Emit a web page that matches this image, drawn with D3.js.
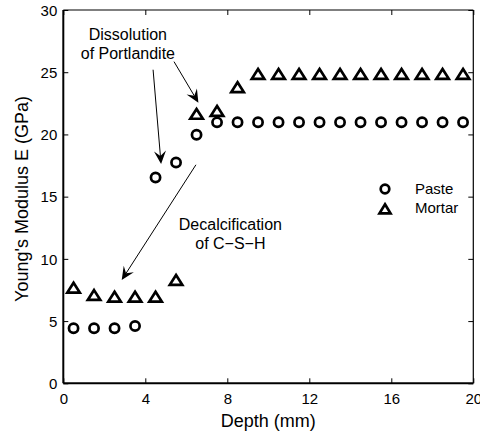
<!DOCTYPE html>
<html>
<head>
<meta charset="utf-8">
<script src="https://cdn.jsdelivr.net/npm/d3@7"></script>
<style>
  html, body { margin: 0; padding: 0; background: #fff; }
  svg { display: block; font-family: "Liberation Sans", Arial, Helvetica, sans-serif; }
</style>
</head>
<body>
<svg id="chart" width="480" height="434"></svg>
<script>
// ---- data ----
const depth = [0.5,1.5,2.5,3.5,4.5,5.5,6.5,7.5,8.5,9.5,10.5,11.5,12.5,13.5,14.5,15.5,16.5,17.5,18.5,19.5];
const paste = [4.42,4.42,4.42,4.6,16.54,17.75,19.98,20.97,20.98,20.98,20.98,20.98,20.98,20.98,20.98,20.98,20.98,20.98,20.98,20.98];
const mortar = [7.75,7.16,7.02,7.02,7.02,8.37,21.72,21.95,23.86,24.93,24.93,24.93,24.93,24.93,24.93,24.93,24.93,24.93,24.93,24.93];
const xTicks = [0,4,8,12,16,20];
const yTicks = [0,5,10,15,20,25,30];
const seriesNames = ["Paste","Mortar"];
const annoTexts = [
  {lines:["Dissolution","of Portlandite"], x:3.15, y:[27.55,26.1]},
  {lines:["Decalcification","of C\u2212S\u2212H"], x:8.15, y:[12.35,10.8]}
];
const arrows = [
  {x1:4.38, y1:25.2, x2:4.77, y2:17.62},
  {x1:5.40, y1:25.85, x2:6.59, y2:22.55},
  {x1:6.47, y1:17.56, x2:2.85, y2:8.3}
];

// ---- layout ----
const L = 63.3, R = 473.3, T = 10, B = 383.3;
const svg = d3.select("#chart");
const x = d3.scaleLinear().domain([0,20]).range([L,R]);
const y = d3.scaleLinear().domain([0,30]).range([B,T]);

// axes with inward ticks
const tickLen = 5;
const gx = svg.append("g").attr("transform",`translate(0,${B})`)
  .call(d3.axisBottom(x).tickValues(xTicks).tickSizeInner(-tickLen).tickSizeOuter(0).tickPadding(10).tickFormat(d3.format("d")));
const gxTop = svg.append("g").attr("transform",`translate(0,${T})`)
  .call(d3.axisTop(x).tickValues(xTicks).tickSizeInner(-tickLen).tickSizeOuter(0).tickFormat(""));
const gy = svg.append("g").attr("transform",`translate(${L},0)`)
  .call(d3.axisLeft(y).tickValues(yTicks).tickSizeInner(-tickLen).tickSizeOuter(0).tickPadding(6).tickFormat(d3.format("d")));
const gyR = svg.append("g").attr("transform",`translate(${R},0)`)
  .call(d3.axisRight(y).tickValues(yTicks).tickSizeInner(-tickLen).tickSizeOuter(0).tickFormat(""));
[gx,gxTop,gy,gyR].forEach(g=>{
  g.select(".domain").remove();
  g.selectAll(".tick line").attr("stroke","#000").attr("stroke-width",1);
  g.selectAll(".tick text").attr("fill","#000").style("font-size","15px").style("font-family","'Liberation Sans', Arial, Helvetica, sans-serif");
});
gx.selectAll(".tick text").attr("dy","0.71em").attr("y",10);
gy.selectAll(".tick text").attr("x",-6).attr("dy","0.35em");

// box
svg.append("line").attr("x1",L).attr("x2",R).attr("y1",B).attr("y2",B).attr("stroke","#000").attr("stroke-width",2);
svg.append("line").attr("x1",L).attr("x2",L).attr("y1",T).attr("y2",B).attr("stroke","#000").attr("stroke-width",2);
svg.append("line").attr("x1",L).attr("x2",R).attr("y1",T).attr("y2",T).attr("stroke","#000").attr("stroke-width",1.2);
svg.append("line").attr("x1",R).attr("x2",R).attr("y1",T).attr("y2",B).attr("stroke","#000").attr("stroke-width",1.2);

// axis labels
svg.append("text").attr("x",(L+R)/2).attr("y",427).attr("text-anchor","middle")
  .style("font-size","18px").text("Depth (mm)");
svg.append("text").attr("transform",`translate(28,199) rotate(-90)`).attr("text-anchor","middle")
  .style("font-size","18px").text("Young's Modulus E (GPa)");

// markers
const triPath = (w,h)=>`M0,${-h/2}L${w/2},${h/2}L${-w/2},${h/2}Z`;
svg.append("g").selectAll("circle").data(depth.map((d,i)=>[d,paste[i]])).join("circle")
  .attr("cx",d=>x(d[0])).attr("cy",d=>y(d[1])).attr("r",4.6)
  .attr("fill","none").attr("stroke","#000").attr("stroke-width",2.7);
svg.append("g").selectAll("path").data(depth.map((d,i)=>[d,mortar[i]])).join("path")
  .attr("transform",d=>`translate(${x(d[0])},${y(d[1])+0.8})`).attr("d",triPath(12.5,9.8))
  .attr("fill","none").attr("stroke","#000").attr("stroke-width",2.7).attr("stroke-linejoin","miter");

// legend
const leg = svg.append("g");
seriesNames.forEach((name,i)=>{
  const cy = 189 + i*19;
  if(i===0){
    leg.append("circle").attr("cx",385).attr("cy",cy).attr("r",4.3).attr("fill","none").attr("stroke","#000").attr("stroke-width",2.7);
  } else {
    leg.append("path").attr("transform",`translate(385,${cy+0.8})`).attr("d",triPath(11,9))
      .attr("fill","none").attr("stroke","#000").attr("stroke-width",2.7);
  }
  leg.append("text").attr("x",415).attr("y",cy).attr("dy","0.35em").style("font-size","15px").text(name);
});

// annotations
annoTexts.forEach(a=>{
  a.lines.forEach((t,i)=>{
    svg.append("text").attr("x",x(a.x)).attr("y",y(a.y[i])).attr("text-anchor","middle")
      .style("font-size","16px").text(t);
  });
});
arrows.forEach(a=>{
  const x1=x(a.x1), y1=y(a.y1), x2=x(a.x2), y2=y(a.y2);
  const ang = Math.atan2(y2-y1, x2-x1);
  const hl = 13, hw = 6, back = 8;
  const ux=Math.cos(ang), uy=Math.sin(ang), px=-uy, py=ux;
  svg.append("line").attr("x1",x1).attr("y1",y1).attr("x2",x2-ux*back).attr("y2",y2-uy*back)
    .attr("stroke","#000").attr("stroke-width",1);
  const p1=[x2-ux*hl+px*hw, y2-uy*hl+py*hw];
  const p2=[x2-ux*back, y2-uy*back];
  const p3=[x2-ux*hl-px*hw, y2-uy*hl-py*hw];
  svg.append("path").attr("d",`M${x2},${y2}L${p1}L${p2}L${p3}Z`).attr("fill","#000");
});
</script>
</body>
</html>
